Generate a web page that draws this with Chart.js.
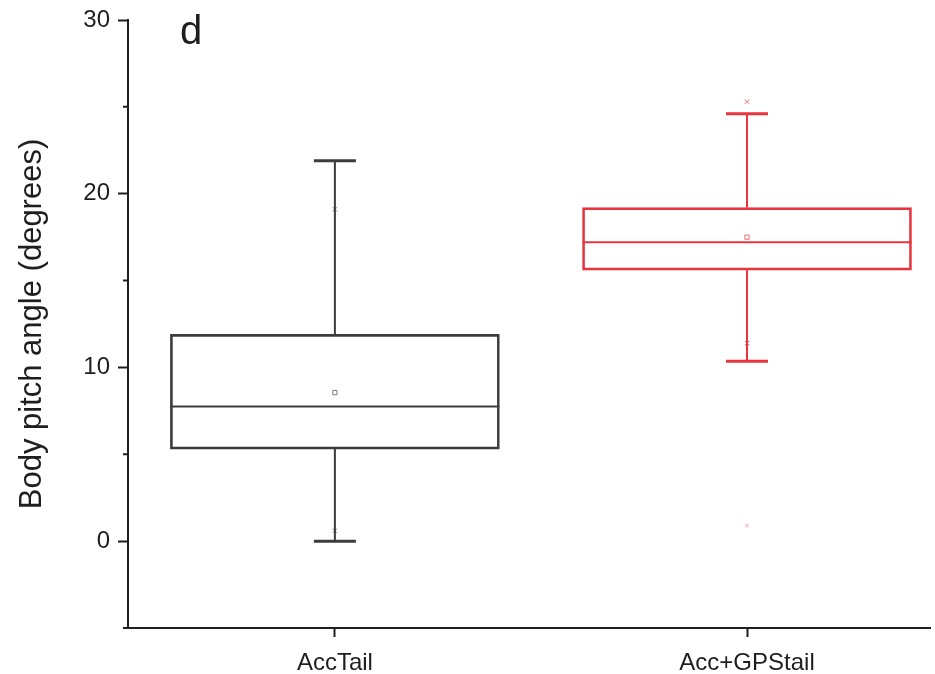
<!DOCTYPE html>
<html>
<head>
<meta charset="utf-8">
<script src="https://cdn.jsdelivr.net/npm/chart.js@4.4.0/dist/chart.umd.min.js"></script>
<style>
body { margin: 0; background: #fff; }
#wrap { width: 935px; height: 674px; }
</style>
</head>
<body>
<div id="wrap"><canvas id="myChart"></canvas></div>
<script>
var groups = ['AccTail', 'Acc+GPStail'];
var whiskerLow = [0, 10.35];
var boxLow = [5.3, 15.6];
var medians = [7.75, 17.2];
var boxHigh = [11.9, 19.2];
var whiskerHigh = [21.9, 24.6];
var means = [8.55, 17.5];
var pctLow = [0.6, 11.4];    // 1st percentile markers
var pctHigh = [19.1, 25.3];  // 99th percentile markers
var outliers = [[], [0.9]];
var yTicks = [0, 10, 20, 30];
var yMinorTicks = [-5, 5, 15, 25];

var colors = ['#3c3c3c', '#e8343c'];
var markColors = ['#7a7a7a', '#ee6a70'];
var fontFamily = "'Liberation Sans', Arial, sans-serif";

// whiskers, caps, medians, minor ticks and the panel letter
var boxParts = {
    id: 'boxParts',
    afterDatasetsDraw: function(chart) {
        var ctx = chart.ctx;
        var x = chart.scales.x;
        var y = chart.scales.y;
        var bars = chart.getDatasetMeta(0).data;
        var capHalf = 21;

        groups.forEach(function(g, i) {
            var cx = x.getPixelForValue(i);
            var half = bars[i].width / 2;
            ctx.save();
            ctx.strokeStyle = colors[i];
            ctx.lineWidth = 2;
            ctx.beginPath();
            ctx.moveTo(cx - half, y.getPixelForValue(medians[i]));
            ctx.lineTo(cx + half, y.getPixelForValue(medians[i]));
            ctx.moveTo(cx, y.getPixelForValue(boxHigh[i]));
            ctx.lineTo(cx, y.getPixelForValue(whiskerHigh[i]));
            ctx.moveTo(cx, y.getPixelForValue(boxLow[i]));
            ctx.lineTo(cx, y.getPixelForValue(whiskerLow[i]));
            ctx.stroke();
            ctx.lineWidth = 3;
            ctx.beginPath();
            ctx.moveTo(cx - capHalf, y.getPixelForValue(whiskerHigh[i]));
            ctx.lineTo(cx + capHalf, y.getPixelForValue(whiskerHigh[i]));
            ctx.moveTo(cx - capHalf, y.getPixelForValue(whiskerLow[i]));
            ctx.lineTo(cx + capHalf, y.getPixelForValue(whiskerLow[i]));
            ctx.stroke();
            ctx.restore();
        });

        ctx.save();
        ctx.strokeStyle = '#1e1e1e';
        ctx.lineWidth = 2;
        ctx.beginPath();
        yMinorTicks.forEach(function(v) {
            var py = y.getPixelForValue(v);
            ctx.moveTo(x.left - 5, py);
            ctx.lineTo(x.left, py);
        });
        ctx.stroke();
        ctx.fillStyle = '#1e1e1e';
        ctx.font = '40px ' + fontFamily;
        ctx.textBaseline = 'alphabetic';
        ctx.fillText('d', 180, 44);
        ctx.restore();
    }
};

var ctx = document.getElementById('myChart').getContext('2d');

var myChart = new Chart(ctx, {
    data: {
        datasets: [{
            type: 'bar',
            data: groups.map(function(g, i) { return { x: i, y: [boxLow[i], boxHigh[i]] }; }),
            borderColor: colors,
            backgroundColor: 'rgba(0,0,0,0)',
            borderWidth: 2,
            borderSkipped: false,
            barThickness: 329
        }, {
            type: 'scatter',
            data: groups.map(function(g, i) { return { x: i, y: means[i] }; }),
            pointStyle: 'rect',
            pointRadius: 3,
            pointBorderWidth: 1,
            pointBorderColor: markColors,
            pointBackgroundColor: 'rgba(0,0,0,0)'
        }, {
            type: 'scatter',
            data: groups.map(function(g, i) { return { x: i, y: pctLow[i] }; })
                .concat(groups.map(function(g, i) { return { x: i, y: pctHigh[i] }; })),
            pointStyle: 'crossRot',
            pointRadius: 3,
            pointBorderWidth: 1,
            pointBorderColor: markColors.concat(markColors)
        }, {
            type: 'scatter',
            data: [].concat.apply([], outliers.map(function(list, i) {
                return list.map(function(v) { return { x: i, y: v }; });
            })),
            pointStyle: 'crossRot',
            pointRadius: 2.5,
            pointBorderWidth: 1,
            pointBorderColor: '#f3a0b0'
        }]
    },
    options: {
        responsive: true,
        maintainAspectRatio: false,
        animation: false,
        layout: { padding: { top: 20, right: 0, bottom: 0, left: 0 } },
        plugins: {
            legend: { display: false },
            tooltip: { enabled: false }
        },
        scales: {
            x: {
                type: 'linear',
                min: -0.502,
                max: 1.444,
                offset: false,
                afterBuildTicks: function(scale) {
                    scale.ticks = groups.map(function(g, i) { return { value: i }; });
                },
                afterFit: function(scale) {
                    scale.height = 46;
                    scale.paddingLeft = 0;
                    scale.paddingRight = 0;
                },
                ticks: {
                    callback: function(v) { return groups[v]; },
                    color: '#1e1e1e',
                    font: { family: fontFamily, size: 24 },
                    padding: 12,
                    maxRotation: 0
                },
                grid: {
                    drawOnChartArea: false,
                    offset: false,
                    tickLength: 9,
                    tickColor: '#1e1e1e',
                    tickWidth: 2
                },
                border: { color: '#1e1e1e', width: 2 }
            },
            y: {
                min: -5,
                max: 30,
                afterBuildTicks: function(scale) {
                    scale.ticks = yTicks.map(function(v) { return { value: v }; });
                },
                afterFit: function(scale) {
                    scale.width = 128;
                    scale.paddingTop = 0;
                    scale.paddingBottom = 0;
                },
                ticks: {
                    color: '#1e1e1e',
                    font: { family: fontFamily, size: 24 },
                    padding: 8
                },
                grid: {
                    drawOnChartArea: false,
                    tickLength: 10,
                    tickColor: '#1e1e1e',
                    tickWidth: 2
                },
                border: { color: '#1e1e1e', width: 2 },
                title: {
                    display: true,
                    text: 'Body pitch angle (degrees)',
                    color: '#1e1e1e',
                    font: { family: fontFamily, size: 31 },
                    padding: { top: 14, bottom: 0 }
                }
            }
        }
    },
    plugins: [boxParts]
});
</script>
</body>
</html>
